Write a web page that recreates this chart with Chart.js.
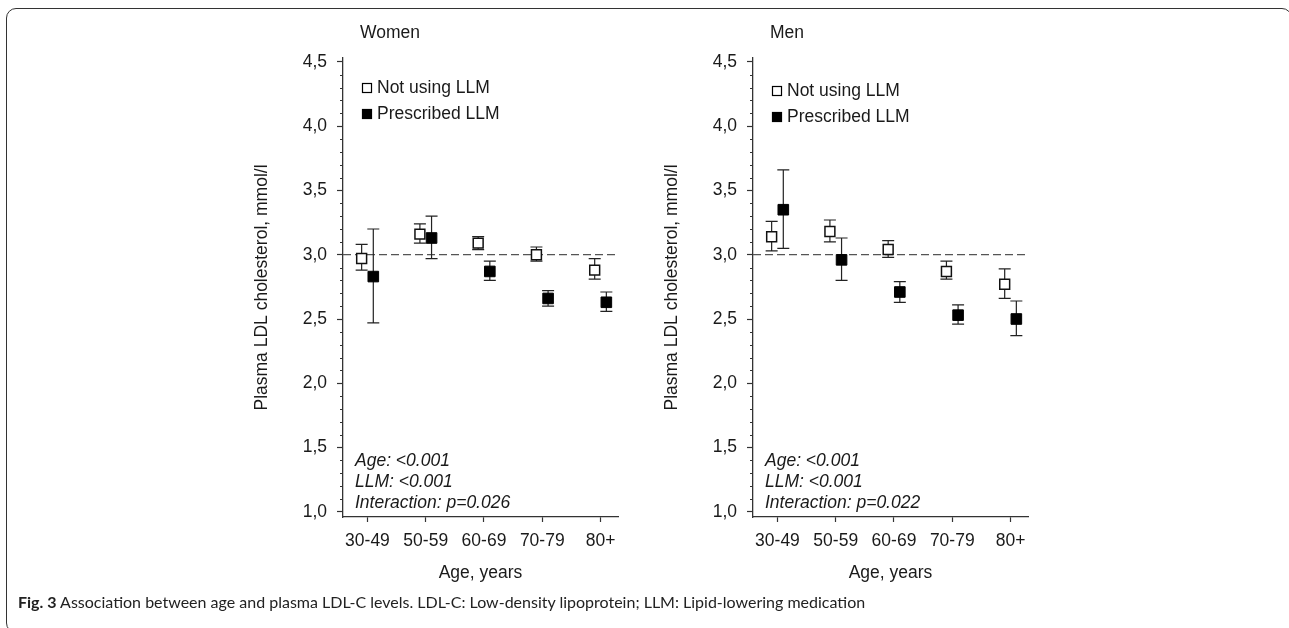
<!DOCTYPE html>
<html>
<head>
<meta charset="utf-8">
<script src="https://cdn.jsdelivr.net/npm/chart.js@4.4.1/dist/chart.umd.min.js"></script>
<style>
  html, body { margin: 0; padding: 0; background: #fff; }
  body { width: 1289px; height: 628px; position: relative; overflow: hidden; }
  .frame {
    position: absolute; left: 6px; top: 8px; width: 1286px; height: 625px;
    box-sizing: border-box; border: 1.5px solid #333; border-radius: 10px;
  }
  canvas { position: absolute; top: 0; }
  #womenChart { left: 240px; }
  #menChart { left: 650px; }
  .caption {
    position: absolute; left: 18px; top: 592px; font-family: Lato, "Noto Sans", sans-serif;
    font-size: 16px; color: #222; white-space: nowrap;
  }
  .caption b { font-weight: 700; }
</style>
</head>
<body>
<div class="frame"></div>
<canvas id="womenChart" width="400" height="600"></canvas>
<canvas id="menChart" width="400" height="600"></canvas>
<div class="caption"><b>Fig. 3</b> Association between age and plasma LDL-C levels. LDL-C: Low-density lipoprotein; LLM: Lipid-lowering medication</div>
<script>
const AGE_GROUPS = ['30-49', '50-59', '60-69', '70-79', '80+'];
const Y_TICKS = [1.0, 1.5, 2.0, 2.5, 3.0, 3.5, 4.0, 4.5];
const Y_TICK_LABELS = ['1,0', '1,5', '2,0', '2,5', '3,0', '3,5', '4,0', '4,5'];
const REF_LEVEL = 3.0;

// women
const womenNotMean = [2.97, 3.16, 3.09, 3.00, 2.88];
const womenNotLo = [2.88, 3.09, 3.04, 2.95, 2.81];
const womenNotHi = [3.08, 3.24, 3.14, 3.06, 2.97];
const womenLlmMean = [2.83, 3.13, 2.87, 2.66, 2.63];
const womenLlmLo = [2.47, 2.97, 2.80, 2.60, 2.56];
const womenLlmHi = [3.20, 3.30, 2.95, 2.72, 2.71];
const womenStats = ['Age: <0.001', 'LLM: <0.001', 'Interaction: p=0.026'];

// men
const menNotMean = [3.14, 3.18, 3.04, 2.87, 2.77];
const menNotLo = [3.03, 3.10, 2.98, 2.81, 2.66];
const menNotHi = [3.26, 3.27, 3.11, 2.95, 2.89];
const menLlmMean = [3.35, 2.96, 2.71, 2.53, 2.50];
const menLlmLo = [3.05, 2.80, 2.63, 2.46, 2.37];
const menLlmHi = [3.66, 3.13, 2.79, 2.61, 2.64];
const menStats = ['Age: <0.001', 'LLM: <0.001', 'Interaction: p=0.022'];

const FONT = '"Liberation Sans", Arial, sans-serif';
const FS = 17.5;
const INK = '#1a1a1a';
const SHIFT = 0.1; // side-by-side offset within an age group

function points(vals, dx) {
  return vals.map((v, i) => ({ x: i + 1 + dx, y: v }));
}

const extras = {
  id: 'extras',
  beforeDatasetsDraw(chart, args, opts) {
    const { ctx, chartArea, scales: { y } } = chart;
    ctx.save();
    // dashed reference line
    const yr = y.getPixelForValue(REF_LEVEL);
    ctx.strokeStyle = '#555';
    ctx.lineWidth = 1.2;
    ctx.setLineDash([8, 4]);
    ctx.beginPath();
    ctx.moveTo(chartArea.left, yr);
    ctx.lineTo(chartArea.right, yr);
    ctx.stroke();
    ctx.setLineDash([]);
    // error bars
    ctx.strokeStyle = '#222';
    ctx.lineWidth = 1.2;
    chart.data.datasets.forEach((ds, di) => {
      chart.getDatasetMeta(di).data.forEach((pt, i) => {
        const lo = y.getPixelForValue(ds.errLo[i]);
        const hi = y.getPixelForValue(ds.errHi[i]);
        ctx.beginPath();
        ctx.moveTo(pt.x, lo); ctx.lineTo(pt.x, hi);
        ctx.moveTo(pt.x - 6, lo); ctx.lineTo(pt.x + 6, lo);
        ctx.moveTo(pt.x - 6, hi); ctx.lineTo(pt.x + 6, hi);
        ctx.stroke();
      });
    });
    ctx.restore();
  },
  afterDraw(chart, args, opts) {
    const { ctx, chartArea, scales: { y } } = chart;
    ctx.save();
    // minor ticks on the y axis
    ctx.strokeStyle = '#333';
    ctx.lineWidth = 1;
    for (let k = 10; k <= 45; k++) {
      if (k % 5 === 0) continue;
      const py = Math.round(y.getPixelForValue(k / 10)) + 0.5;
      ctx.beginPath();
      ctx.moveTo(chartArea.left - 3, py);
      ctx.lineTo(chartArea.left, py);
      ctx.stroke();
    }
    ctx.fillStyle = INK;
    ctx.textBaseline = 'middle';
    ctx.textAlign = 'left';
    // panel title
    ctx.font = FS + 'px ' + FONT;
    ctx.fillText(opts.title, chartArea.left + 17, chartArea.top - 25);
    // legend
    chart.data.datasets.forEach((ds, di) => {
      const cy = chartArea.top + opts.legendTop + di * 26;
      const bx = chartArea.left + 19;
      ctx.fillStyle = ds.pointBackgroundColor;
      ctx.fillRect(bx, cy - 5, 10, 10);
      ctx.strokeStyle = '#000';
      ctx.lineWidth = 1.2;
      ctx.strokeRect(bx + 0.5, cy - 4.5, 9, 9);
      ctx.fillStyle = INK;
      ctx.fillText(ds.label, bx + 15, cy);
    });
    // statistics
    ctx.font = 'italic ' + FS + 'px ' + FONT;
    opts.stats.forEach((s, i) => {
      ctx.fillText(s, chartArea.left + 12, chartArea.bottom - 56 + i * 21);
    });
    ctx.restore();
  }
};

function makePanel(id, title, legendTop, stats, notMean, notLo, notHi, llmMean, llmLo, llmHi) {
  new Chart(document.getElementById(id), {
    type: 'scatter',
    data: {
      datasets: [
        {
          label: 'Not using LLM',
          data: points(notMean, -SHIFT),
          errLo: notLo, errHi: notHi,
          pointStyle: 'rect', pointRadius: 7, pointHoverRadius: 7,
          pointBackgroundColor: '#fff', pointBorderColor: '#111', pointBorderWidth: 1.5,
          backgroundColor: '#fff', borderColor: '#111'
        },
        {
          label: 'Prescribed LLM',
          data: points(llmMean, SHIFT),
          errLo: llmLo, errHi: llmHi,
          pointStyle: 'rect', pointRadius: 7.5, pointHoverRadius: 7.5,
          pointBackgroundColor: '#000', pointBorderColor: '#000', pointBorderWidth: 1,
          backgroundColor: '#000', borderColor: '#000'
        }
      ]
    },
    options: {
      responsive: false,
      animation: false,
      layout: { padding: { left: 12, top: 58, right: 22, bottom: 16 } },
      plugins: {
        legend: { display: false },
        tooltip: { enabled: false },
        extras: { title: title, legendTop: legendTop, stats: stats }
      },
      scales: {
        x: {
          type: 'linear',
          min: 0.58,
          max: 5.30,
          afterBuildTicks: s => { s.ticks = AGE_GROUPS.map((g, i) => ({ value: i + 1 })); },
          afterFit: s => { s.height = 67; },
          grid: { drawOnChartArea: false, tickLength: 5, tickColor: '#333', tickWidth: 1.2 },
          border: { color: '#333', width: 1.3 },
          ticks: {
            padding: 9, color: INK, font: { family: FONT, size: FS },
            maxRotation: 0,
            callback: (v, i) => AGE_GROUPS[i]
          },
          title: { display: true, text: 'Age, years', color: INK, padding: 0, font: { family: FONT, size: FS } }
        },
        y: {
          min: 0.96,
          max: 4.53,
          afterBuildTicks: s => { s.ticks = Y_TICKS.map(v => ({ value: v })); },
          afterFit: s => { s.width = 91; },
          grid: { drawOnChartArea: false, tickLength: 6, tickColor: '#333', tickWidth: 1.2 },
          border: { color: '#333', width: 1.3 },
          ticks: {
            padding: 10, color: INK, font: { family: FONT, size: FS },
            callback: (v, i) => Y_TICK_LABELS[i]
          },
          title: { display: true, text: 'Plasma LDL cholesterol, mmol/l', color: INK, padding: 0, font: { family: FONT, size: FS } }
        }
      }
    },
    plugins: [extras]
  });
}

makePanel('womenChart', 'Women', 30, womenStats,
  womenNotMean, womenNotLo, womenNotHi, womenLlmMean, womenLlmLo, womenLlmHi);
makePanel('menChart', 'Men', 33, menStats,
  menNotMean, menNotLo, menNotHi, menLlmMean, menLlmLo, menLlmHi);
</script>
</body>
</html>
